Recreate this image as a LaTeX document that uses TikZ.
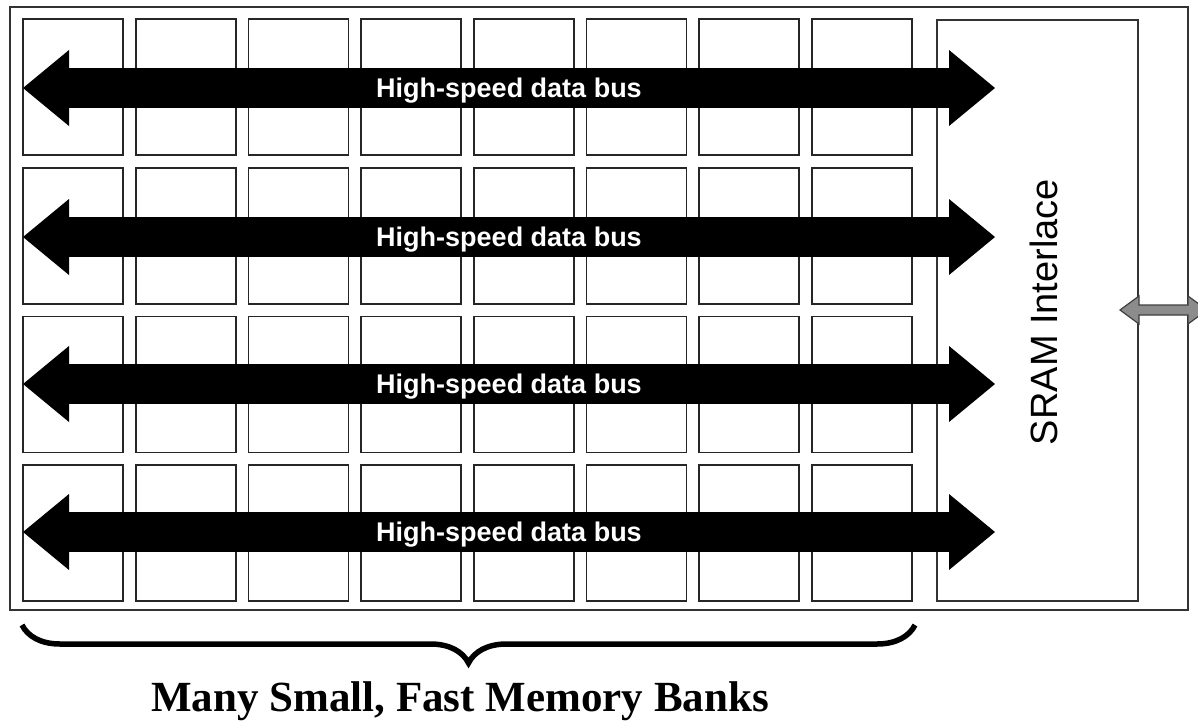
\documentclass[tikz,border=0pt]{standalone}
\usepackage{fontspec}
\setmainfont{Liberation Serif}
\setsansfont{Liberation Sans}
\usetikzlibrary{arrows.meta,decorations.pathreplacing}
\tikzset{
  cell/.style={draw=black!85, line width=1.8pt, minimum width=100pt, minimum height=136pt, inner sep=0pt, outer sep=0pt},
  frame/.style={draw=black!80, line width=1.8pt},
  bus/.style={line width=40pt, {Triangle[length=46pt,width=76pt,line width=0pt]}-{Triangle[length=46pt,width=76pt,line width=0pt]}},
  buslabel/.style={text=white, font=\sffamily\bfseries\fontsize{27}{30}\selectfont, inner sep=0pt, anchor=base},
  sramlabel/.style={font=\sffamily\fontsize{38}{42}\selectfont, rotate=90, inner sep=0pt},
  caption/.style={font=\rmfamily\bfseries\fontsize{43}{48}\selectfont, inner sep=0pt, anchor=base},
  bracestyle/.style={line width=5.5pt, decorate, decoration={brace, mirror, amplitude=38pt}},
  ioarrow/.style={draw=black!75, fill=black!45, line width=1.2pt}
}
\begin{document}
\begin{tikzpicture}[x=1pt,y=-1pt]
\useasboundingbox (0,0) rectangle (1198,725);
% outer frame and SRAM interface block
\draw[frame] (10,7) rectangle (1188,610);
\node[frame, minimum width=201pt, minimum height=581pt, inner sep=0pt, anchor=north west] (sram) at (936,19) {};
% memory bank cells
\foreach \j in {0,...,3}{
  \foreach \i in {0,...,7}{
    \node[cell] (c-\j-\i) at ({73+112.7*\i},{87+148.7*\j}) {};
  }
}
% buses
\foreach \j/\yy in {1/88,2/237,3/384,4/532}{
  \coordinate (bl\j) at (23,\yy);
  \coordinate (br\j) at (995,\yy);
  \draw[bus] (bl\j) -- (br\j);
  \node[buslabel] (t\j) at (509,{\yy+9}) {High-speed data bus};
}
% SRAM label
\node[sramlabel, anchor=base] (sramtext) at (1057,312) {SRAM Interlace};
% external io arrow
\draw[ioarrow] (1120,310) -- (1139,296) -- (1139,305) -- (1188,305) -- (1188,296) -- (1207,310)
  -- (1188,324) -- (1188,315) -- (1139,315) -- (1139,324) -- cycle;
% brace
\coordinate (brL) at (22,625);
\coordinate (brR) at (915,625);
\draw[bracestyle] (brL) -- (brR);
\node[caption] (cap) at (460,711) {Many Small, Fast Memory Banks};
\end{tikzpicture}
\end{document}
